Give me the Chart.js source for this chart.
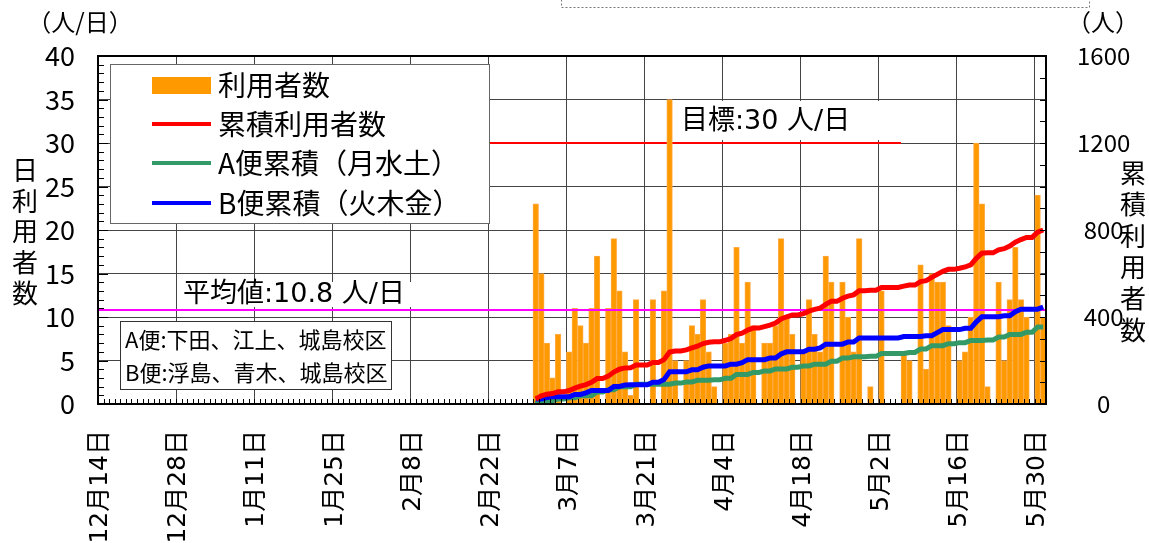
<!DOCTYPE html>
<html>
<head>
<meta charset="utf-8">
<script src="https://cdn.jsdelivr.net/npm/chart.js@4.4.1/dist/chart.umd.min.js"></script>
<style>
  html, body { margin: 0; padding: 0; background: #fff; }
</style>
</head>
<body>
<canvas id="chart" width="1149" height="543"></canvas>
<script>
// x axis: one slot per day, 2015-12-14 .. 2016-05-31
var dayCount = 170;
var tickLabels = ['12月14日', '12月28日', '1月11日', '1月25日', '2月8日', '2月22日', '3月7日',
                  '3月21日', '4月4日', '4月18日', '5月2日', '5月16日', '5月30日'];

// 3月1日 .. 5月31日
var dailyUsers = [23, 15, 7, 3, 8, 0, 6, 11, 9, 7, 11, 17, 0, 11, 19, 13, 6, 1, 12, 0, 0,
                  12, 0, 13, 35, 5, 0, 5, 9, 8, 12, 6, 2, 0, 7, 8, 18, 7, 14, 9, 0, 7,
                  7, 9, 19, 10, 8, 0, 6, 12, 8, 6, 17, 14, 0, 14, 10, 6, 19, 0, 2, 0, 13,
                  0, 0, 0, 6, 5, 0, 16, 4, 15, 14, 14, 9, 0, 5, 6, 10, 30, 23, 2, 0, 14,
                  5, 12, 18, 12, 10, 0, 24, 10];
var totalCumulative = [23, 38, 45, 48, 56, 56, 62, 73, 82, 89, 100, 117, 117, 128,
                       147, 160, 166, 167, 179, 179, 179, 191, 191, 204, 239, 244, 244, 249,
                       258, 266, 278, 284, 286, 286, 293, 301, 319, 326, 340, 349, 349, 356,
                       363, 372, 391, 401, 409, 409, 415, 427, 435, 441, 458, 472, 472, 486,
                       496, 502, 521, 521, 523, 523, 536, 536, 536, 536, 542, 547, 547, 563,
                       567, 582, 596, 610, 619, 619, 624, 630, 640, 670, 693, 695, 695, 709,
                       714, 726, 744, 756, 766, 766, 790, 800];
var aCumulative = [0, 15, 15, 15, 23, 23, 29, 29, 38, 38, 38, 55, 55, 66,
                   66, 79, 79, 79, 91, 91, 91, 91, 91, 91, 91, 96, 96, 101,
                   101, 109, 109, 109, 111, 111, 118, 118, 136, 136, 136, 145, 145, 152,
                   152, 161, 161, 161, 169, 169, 175, 175, 183, 183, 183, 197, 197, 211,
                   211, 217, 217, 217, 219, 219, 232, 232, 232, 232, 232, 237, 237, 253,
                   253, 268, 268, 268, 277, 277, 282, 282, 292, 292, 292, 294, 294, 308,
                   308, 320, 320, 320, 330, 330, 354, 354];
var bCumulative = [23, 23, 30, 33, 33, 33, 33, 44, 44, 51, 62, 62, 62, 62,
                   81, 81, 87, 88, 88, 88, 88, 100, 100, 113, 148, 148, 148, 148,
                   157, 157, 169, 175, 175, 175, 175, 183, 183, 190, 204, 204, 204, 204,
                   211, 211, 230, 240, 240, 240, 240, 252, 252, 258, 275, 275, 275, 275,
                   285, 285, 304, 304, 304, 304, 304, 304, 304, 304, 310, 310, 310, 310,
                   314, 314, 328, 342, 342, 342, 342, 348, 348, 378, 401, 401, 401, 401,
                   406, 406, 424, 436, 436, 436, 436, 446];
var averageValue = 10.8;
var targetValue = 30;
var targetFrom = '2月22日';
var targetTo = '5月6日';

var dayLabels = [];
for (var i = 0; i < dayCount; i++) {
  var d = new Date(2015, 11, 14 + i);
  dayLabels.push((d.getMonth() + 1) + '月' + d.getDate() + '日');
}
var firstDataDay = dayLabels.indexOf('3月1日');

function padSeries(values) {
  var out = [];
  for (var i = 0; i < firstDataDay; i++) out.push(null);
  return out.concat(values);
}

var fontFamily = "'Noto Sans CJK JP', 'Noto Sans', sans-serif";
var wideFamily = "'DejaVu Sans', 'Noto Sans CJK JP', sans-serif";
Chart.defaults.font.family = fontFamily;
Chart.defaults.color = '#000';

function px(size, family) { return size + 'px ' + (family || fontFamily); }

function stackedText(ctx, text, x, y, step, size) {
  ctx.font = px(size);
  ctx.textAlign = 'center';
  ctx.textBaseline = 'middle';
  for (var i = 0; i < text.length; i++) ctx.fillText(text[i], x, y + i * step);
}

function boxedText(ctx, text, x, y, size, box) {
  ctx.fillStyle = '#fff';
  ctx.fillRect(box[0], box[1], box[2], box[3]);
  ctx.fillStyle = '#000';
  ctx.font = px(size, wideFamily);
  ctx.textAlign = 'left';
  ctx.textBaseline = 'middle';
  ctx.fillText(text, x, y);
}

var decorations = {
  id: 'decorations',
  beforeDatasetsDraw: function (chart) {
    var ctx = chart.ctx, xs = chart.scales.x, y = chart.scales.y;
    var half = (xs.getPixelForValue(1) - xs.getPixelForValue(0)) / 2;
    var x0 = xs.getPixelForValue(dayLabels.indexOf(targetFrom)) - half;
    var x1 = xs.getPixelForValue(dayLabels.indexOf(targetTo)) - half;
    var py = y.getPixelForValue(targetValue);
    ctx.save();
    ctx.strokeStyle = '#FF0000';
    ctx.lineWidth = 2;
    ctx.beginPath();
    ctx.moveTo(x0, py);
    ctx.lineTo(x1, py);
    ctx.stroke();
    ctx.restore();
  },
  afterDatasetDraw: function (chart, args) {
    if (args.index !== 3) return;
    var ctx = chart.ctx, a = chart.chartArea;
    var py = chart.scales.y.getPixelForValue(averageValue);
    ctx.save();
    ctx.strokeStyle = '#FF00FF';
    ctx.lineWidth = 2;
    ctx.beginPath();
    ctx.moveTo(a.left, py);
    ctx.lineTo(a.right, py);
    ctx.stroke();
    ctx.restore();
  },
  afterDatasetsDraw: function (chart) {
    var ctx = chart.ctx, a = chart.chartArea;
    var xs = chart.scales.x, y = chart.scales.y, y2 = chart.scales.y2;
    var half = (xs.getPixelForValue(1) - xs.getPixelForValue(0)) / 2;
    var i, p;
    ctx.save();

    // small inward ticks
    ctx.strokeStyle = '#000';
    ctx.lineWidth = 1;
    ctx.beginPath();
    for (i = 0; i <= 40; i++) {
      p = Math.round(y.getPixelForValue(i)) + 0.5;
      ctx.moveTo(a.left, p);
      ctx.lineTo(a.left + (i % 5 === 0 ? 10 : 6), p);
    }
    for (i = 0; i <= 1600; i += 100) {
      p = Math.round(y2.getPixelForValue(i)) + 0.5;
      ctx.moveTo(a.right, p);
      ctx.lineTo(a.right - 6, p);
    }
    for (i = 0; i <= dayCount; i++) {
      p = Math.round(xs.getPixelForValue(i) - half) + 0.5;
      ctx.moveTo(p, a.bottom);
      ctx.lineTo(p, a.bottom - 5);
    }
    ctx.stroke();

    // plot frame
    ctx.lineWidth = 2;
    ctx.strokeRect(a.left, a.top, a.right - a.left, a.bottom - a.top);

    // legend
    ctx.fillStyle = '#fff';
    ctx.fillRect(110, 64, 379, 159);
    ctx.strokeStyle = '#666';
    ctx.lineWidth = 1;
    ctx.strokeRect(110.5, 64.5, 379, 159);
    var items = [
      { text: '利用者数', color: '#FF9900', bar: true },
      { text: '累積利用者数', color: '#FF0000' },
      { text: 'A便累積（月水土）', color: '#339966' },
      { text: 'B便累積（火木金）', color: '#0000FF' }
    ];
    var rows = [85, 124, 163, 203];
    for (i = 0; i < items.length; i++) {
      var it = items[i], ry = rows[i];
      if (it.bar) {
        ctx.fillStyle = it.color;
        ctx.fillRect(152, ry - 8, 59, 17);
      } else {
        ctx.strokeStyle = it.color;
        ctx.lineWidth = 4;
        ctx.beginPath();
        ctx.moveTo(152, ry);
        ctx.lineTo(211, ry);
        ctx.stroke();
      }
      ctx.fillStyle = '#000';
      ctx.font = px(28);
      ctx.textAlign = 'left';
      ctx.textBaseline = 'middle';
      ctx.fillText(it.text, 218, ry);
    }

    // notes
    boxedText(ctx, '目標:30 人/日', 681, 122, 27, [676, 101, 210, 39]);
    boxedText(ctx, '平均値:10.8 人/日', 183, 295, 27, [178, 282, 234, 25]);

    ctx.fillStyle = '#fff';
    ctx.fillRect(120, 321, 271, 68);
    ctx.strokeStyle = '#333';
    ctx.lineWidth = 1;
    ctx.strokeRect(120.5, 321.5, 271, 68);
    ctx.fillStyle = '#000';
    ctx.font = px(22);
    ctx.textAlign = 'left';
    ctx.textBaseline = 'middle';
    ctx.fillText('A便:下田、江上、城島校区', 125, 340);
    ctx.fillText('B便:浮島、青木、城島校区', 125, 373);

    // axis titles
    ctx.font = px(24);
    ctx.textAlign = 'center';
    ctx.textBaseline = 'middle';
    ctx.fillText('（人/日）', 80, 22);
    ctx.fillText('（人）', 1103, 22);
    stackedText(ctx, '日利用者数', 25, 170, 30.8, 26);
    stackedText(ctx, '累積利用者数', 1133, 173, 31.4, 26);

    // dotted frame at the top edge
    ctx.strokeStyle = '#777';
    ctx.lineWidth = 1;
    ctx.setLineDash([2, 2]);
    ctx.strokeRect(561.5, -2.5, 528, 10);
    ctx.restore();
  }
};

new Chart(document.getElementById('chart'), {
  type: 'bar',
  data: {
    labels: dayLabels,
    datasets: [
      { type: 'line', label: '累積利用者数', data: padSeries(totalCumulative), yAxisID: 'y2',
        borderColor: '#FF0000', borderWidth: 5, pointRadius: 0, tension: 0, order: 1 },
      { type: 'line', label: 'B便累積(火木金)', data: padSeries(bCumulative), yAxisID: 'y2',
        borderColor: '#0000FF', borderWidth: 5, pointRadius: 0, tension: 0, order: 2 },
      { type: 'line', label: 'A便累積(月水土)', data: padSeries(aCumulative), yAxisID: 'y2',
        borderColor: '#339966', borderWidth: 5, pointRadius: 0, tension: 0, order: 3 },
      { type: 'bar', label: '利用者数', data: padSeries(dailyUsers), yAxisID: 'y',
        backgroundColor: '#FF9900', borderColor: '#FFAA44', borderWidth: 1,
        barPercentage: 1, categoryPercentage: 1, order: 4 }
    ]
  },
  options: {
    responsive: false,
    animation: false,
    devicePixelRatio: 1,
    layout: { padding: { top: 56, left: 0, right: 0, bottom: 0 } },
    plugins: { legend: { display: false }, tooltip: { enabled: false } },
    scales: {
      x: {
        offset: true,
        grid: {
          offset: true,
          drawTicks: false,
          lineWidth: 1,
          color: function (c) { return c.index % 14 === 0 ? '#444' : 'rgba(0,0,0,0)'; }
        },
        border: { display: false },
        ticks: {
          autoSkip: false, minRotation: 90, maxRotation: 90, padding: 26,
          font: { size: 25, family: wideFamily },
          callback: function (v, i) {
            var l = dayLabels[i];
            return tickLabels.indexOf(l) >= 0 ? l : '';
          }
        },
        afterFit: function (s) { s.height = 139; }
      },
      y: {
        position: 'left', min: 0, max: 40,
        ticks: { stepSize: 5, padding: 23, font: { size: 27 } },
        grid: { color: '#444', drawTicks: false },
        border: { display: false },
        afterFit: function (s) { s.width = 98; }
      },
      y2: {
        position: 'right', min: 0, max: 1600,
        ticks: {
          stepSize: 400, padding: 31, crossAlign: 'center', font: { size: 24 },
          callback: function (v) { return String(v); }
        },
        grid: { drawOnChartArea: false, drawTicks: false },
        border: { display: false },
        afterFit: function (s) { s.width = 103; }
      }
    }
  },
  plugins: [decorations]
});
</script>
</body>
</html>
